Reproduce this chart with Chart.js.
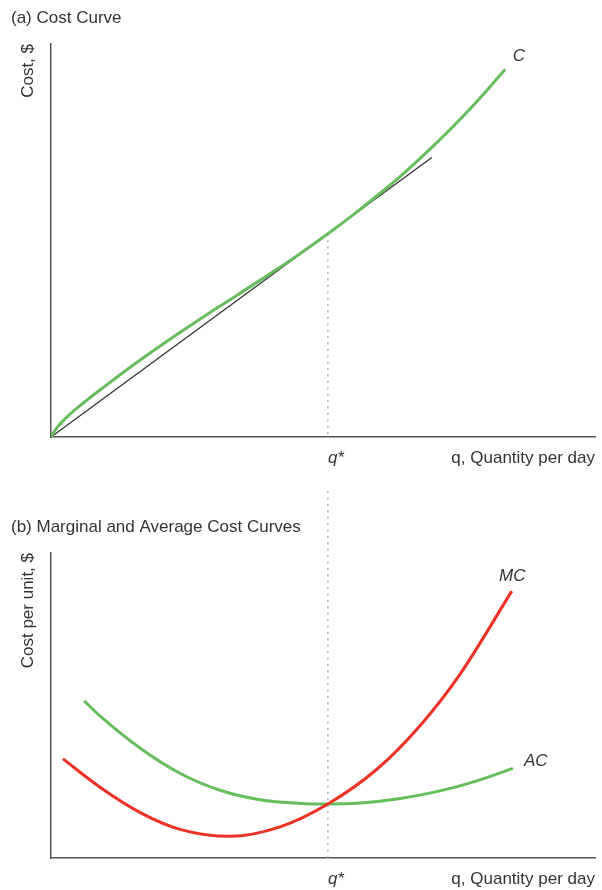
<!DOCTYPE html>
<html lang="en">
  <head>
    <meta charset="UTF-8" />
    <title>Cost Curves</title>
    <style>
      body {
        margin: 0;
        background-color: #fff;
      }
      canvas {
        position: absolute;
        left: 0;
      }
      #costChart {
        top: 0;
      }
      #unitChart {
        top: 480px;
      }
    </style>
  </head>
  <body>
    <canvas id="costChart" width="602" height="480"></canvas>
    <canvas id="unitChart" width="602" height="410"></canvas>

    <script src="https://cdn.jsdelivr.net/npm/chart.js"></script>
    <script>
      // output where average cost is lowest
      var qStar = 5.09;

      // (a) total cost curve and the ray from the origin
      var costQ = [0, 0.1, 0.25, 0.5, 1.0, 1.5, 2.0, 2.5, 3.0, 3.5, 4.0, 4.5, 5.09, 5.5, 6.0, 6.5, 7.0, 7.5, 8.0, 8.35];
      var costC = [0, 2.2, 4.5, 7.6, 13.0, 18.2, 23.1, 27.8, 32.35, 36.8, 41.3, 45.9, 51.7, 55.95, 61.45, 67.3, 73.7, 80.55, 88.0, 93.6];
      var rayQ = [0, 7.0];
      var rayC = [0, 71.1];
      var costAtQStar = 51.7;

      // (b) marginal and average cost
      var mcQ = [0.22, 0.9, 1.64, 2.37, 3.29, 4.21, 5.09, 5.99, 6.78, 7.52, 8.47];
      var mcV = [32.5, 23.2, 14.9, 9.4, 7.1, 10.2, 17.7, 29.1, 43.3, 60.3, 87.5];
      var acQ = [0.61, 0.9, 1.64, 2.37, 3.11, 3.84, 4.58, 5.09, 5.68, 6.42, 7.15, 7.83, 8.49];
      var acV = [51.5, 46.6, 36.0, 27.8, 22.2, 19.1, 17.9, 17.7, 18.0, 19.5, 22.0, 25.3, 29.4];

      var GREEN = "#66bd5c";
      var RED = "#ee3124";
      var FONT = '"Liberation Sans", Arial, sans-serif';

      Chart.defaults.font.family = FONT;
      Chart.defaults.font.size = 17;
      Chart.defaults.color = "#333";

      function pts(xs, ys) {
        return xs.map(function (x, i) {
          return { x: x, y: ys[i] };
        });
      }

      // italic letters next to the curves
      var curveLabels = {
        id: "curveLabels",
        afterDatasetsDraw: function (chart, args, opts) {
          var ctx = chart.ctx;
          var sx = chart.scales.x;
          var sy = chart.scales.y;
          ctx.save();
          ctx.font = "italic 17px " + FONT;
          ctx.fillStyle = "#333";
          ctx.textAlign = "center";
          ctx.textBaseline = "middle";
          opts.items.forEach(function (it) {
            ctx.fillText(it.text, sx.getPixelForValue(it.q), sy.getPixelForValue(it.v));
          });
          ctx.restore();
        },
      };

      function curve(data, color) {
        return {
          data: data,
          borderColor: color,
          borderWidth: 3,
          pointRadius: 0,
          fill: false,
          cubicInterpolationMode: "monotone",
        };
      }

      function dotted(data) {
        return {
          data: data,
          borderColor: "#aaa",
          borderWidth: 1.5,
          borderDash: [2, 4.4],
          pointRadius: 0,
          fill: false,
          clip: false,
        };
      }

      function scales(yTitle, axisHeight, titleBottom, tickPad) {
        return {
          x: {
            type: "linear",
            min: 0,
            max: 10,
            grid: { display: false, drawTicks: false },
            border: { color: "#555", width: 1.5 },
            afterBuildTicks: function (s) {
              s.ticks = [{ value: qStar }];
            },
            ticks: {
              padding: tickPad,
              align: "start",
              font: { style: "italic" },
              callback: function () {
                return "q*";
              },
            },
            title: {
              display: true,
              text: "q, Quantity per day",
              align: "end",
              padding: { top: 0, bottom: titleBottom },
            },
            afterFit: function (s) {
              s.height = axisHeight;
            },
          },
          y: {
            type: "linear",
            min: 0,
            max: 100,
            grid: { display: false, drawTicks: false },
            border: { color: "#555", width: 1.5 },
            ticks: { display: false },
            title: {
              display: true,
              text: yTitle,
              align: "end",
              padding: { top: 7, bottom: 4 },
            },
            afterFit: function (s) {
              s.width = 40;
            },
          },
        };
      }

      function common(title, titlePad, labels, axes) {
        return {
          responsive: false,
          animation: false,
          layout: { padding: { left: 11, right: 7, top: 0, bottom: 0 } },
          plugins: {
            legend: { display: false },
            tooltip: { enabled: false },
            title: {
              display: true,
              text: title,
              align: "start",
              font: { size: 17, weight: "normal" },
              padding: titlePad,
            },
            curveLabels: { items: labels },
          },
          scales: axes,
        };
      }

      new Chart(document.getElementById("costChart"), {
        type: "line",
        data: {
          datasets: [
            curve(pts(costQ, costC), GREEN),
            {
              data: pts(rayQ, rayC),
              borderColor: "#333",
              borderWidth: 1.3,
              pointRadius: 0,
              fill: false,
            },
            dotted([
              { x: qStar, y: costAtQStar },
              { x: qStar, y: 0 },
            ]),
          ],
        },
        options: common(
          "(a) Cost Curve",
          { top: 7.8, bottom: 15.8 },
          [{ text: "C", q: 8.6, v: 96.9 }],
          scales("Cost, $", 43, 11.8, 10.8)
        ),
        plugins: [curveLabels],
      });

      new Chart(document.getElementById("unitChart"), {
        type: "line",
        data: {
          datasets: [
            curve(pts(mcQ, mcV), RED),
            curve(pts(acQ, acV), GREEN),
            dotted([
              { x: qStar, y: 0 },
              { x: qStar, y: 120.7 },
            ]),
          ],
        },
        options: common(
          "(b) Marginal and Average Cost Curves",
          { top: 36.8, bottom: 15.8 },
          [
            { text: "MC", q: 8.48, v: 92.5 },
            { text: "AC", q: 8.91, v: 31.8 },
          ],
          scales("Cost per unit, $", 32, 0.8, 10.8)
        ),
        plugins: [curveLabels],
      });
    </script>
  </body>
</html>
